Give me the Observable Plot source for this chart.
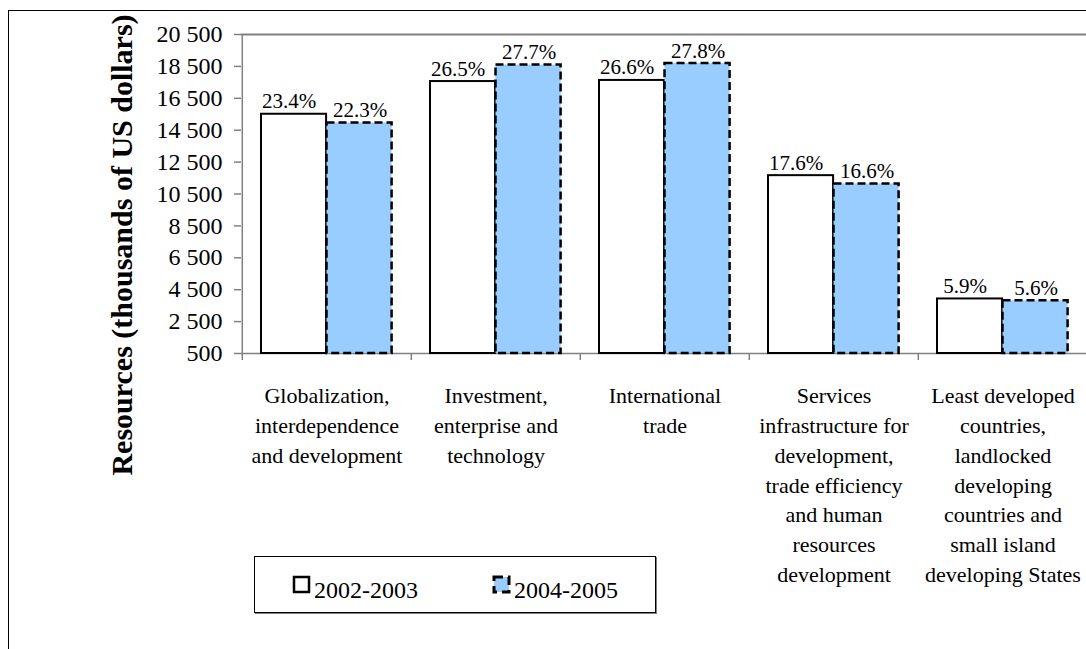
<!DOCTYPE html>
<html>
<head>
<meta charset="utf-8">
<script src="https://cdn.jsdelivr.net/npm/d3@7"></script>
<script src="https://cdn.jsdelivr.net/npm/@observablehq/plot@0.6"></script>
<style>
  html, body { margin: 0; padding: 0; background: #fff; overflow: hidden; }
  #wrap { position: relative; width: 1086px; height: 649px; overflow: hidden; font-family: "Liberation Serif", "Times New Roman", serif; }
  #frame { position: absolute; left: 8px; top: 10px; width: 2000px; height: 2000px; border-left: 1px solid #000; border-top: 1px solid #000; }
  #chart { position: absolute; left: 0; top: 0; }
  #chart svg, #chart svg text { font-family: "Liberation Serif", "Times New Roman", serif !important; }
  #ytitle { position: absolute; left: 0; top: 0; }
  #legend { position: absolute; left: 254px; top: 556px; width: 400px; height: 55px; border: 1px solid #000; box-shadow: 1px 1px 0 #808080; background: #fff; }
</style>
</head>
<body>
<div id="wrap">
  <div id="frame"></div>
  <div id="chart"></div>
  <svg id="ytitle" width="200" height="649"></svg>
  <div id="legend"></div>
</div>
<script>
const categories = [
  "Globalization, interdependence and development",
  "Investment, enterprise and technology",
  "International trade",
  "Services infrastructure for development, trade efficiency and human resources development",
  "Least developed countries, landlocked developing countries and small island developing States"
];
const categoryLabels = [
  "Globalization,\ninterdependence\nand development",
  "Investment,\nenterprise and\ntechnology",
  "International\ntrade",
  "Services\ninfrastructure for\ndevelopment,\ntrade efficiency\nand human\nresources\ndevelopment",
  "Least developed\ncountries,\nlandlocked\ndeveloping\ncountries and\nsmall island\ndeveloping States"
];
const series = ["2002-2003", "2004-2005"];
const values2002 = [15500, 17550, 17620, 11650, 3920];
const values2004 = [14950, 18580, 18680, 11130, 3800];
const share2002 = ["23.4%", "26.5%", "26.6%", "17.6%", "5.9%"];
const share2004 = ["22.3%", "27.7%", "27.8%", "16.6%", "5.6%"];
const yTicks = [500, 2500, 4500, 6500, 8500, 10500, 12500, 14500, 16500, 18500, 20500];
const yTitle = "Resources (thousands of US dollars)";

const rows = categories.map((c, i) => ({
  category: c, label: categoryLabels[i],
  v1: values2002[i], v2: values2004[i],
  p1: share2002[i], p2: share2004[i]
}));
const labelFor = Object.fromEntries(rows.map(r => [r.category, r.label]));
const yMin = yTicks[0], yMax = yTicks[yTicks.length - 1];
const fmt = d => d3.format(",")(d).replace(/,/g, " ");

const FONT = "Liberation Serif, Times New Roman, serif";
const W = 1088, ML = 241;
const band = (W - ML) / categories.length;
const barW = 65.5, gapOut = 19;
const lineGray = "#808080";
const blue = "#99CCFF";

const chart = Plot.plot({
  width: W, height: 649,
  marginLeft: ML, marginRight: 0, marginTop: 34, marginBottom: 296,
  style: { background: "transparent", fontFamily: FONT, maxWidth: "none", overflow: "visible", color: "black" },
  x: { domain: categories, paddingInner: 0, paddingOuter: 0, axis: null },
  y: { domain: [yMin, yMax], axis: null },
  marks: [
    Plot.ruleY([yMax], { stroke: lineGray, strokeWidth: 2 }),
    Plot.ruleY([yMin], { stroke: lineGray, strokeWidth: 1.5 }),
    Plot.barY(rows, { x: "category", y1: yMin, y2: "v1", insetLeft: gapOut, insetRight: band - gapOut - barW,
      fill: "white", stroke: "black", strokeWidth: 2 }),
    Plot.barY(rows, { x: "category", y1: yMin, y2: "v2", insetLeft: gapOut + barW, insetRight: band - gapOut - 2 * barW,
      fill: blue, stroke: "black", strokeWidth: 2.5, strokeDasharray: "8,4" }),
    Plot.ruleX([categories[0]], { x: d => d, y1: yMin, y2: yMax, dx: -band / 2, stroke: lineGray, strokeWidth: 1.5 }),
    Plot.ruleX(categories, { x: d => d, y1: yMin, y2: yMin, insetBottom: -7, dx: -band / 2, stroke: lineGray, strokeWidth: 1.5 }),
    Plot.axisY({ ticks: yTicks, tickSize: 7, tickPadding: 12, fontSize: 24, fontFamily: FONT, tickFormat: fmt, stroke: lineGray, strokeWidth: 1.5, fill: "black", label: null }),
    Plot.axisX({ tickSize: 0, tickPadding: 28, fontSize: 22, fontFamily: FONT, lineHeight: 1.36, tickFormat: d => labelFor[d], fill: "black", label: null }),
    Plot.text(rows, { x: "category", y: "v1", text: "p1", dx: -38, dy: -6, lineAnchor: "bottom", fontSize: 21, fontFamily: FONT, fill: "black" }),
    Plot.text(rows, { x: "category", y: "v2", text: "p2", dx: 33, dy: -6, lineAnchor: "bottom", fontSize: 21, fontFamily: FONT, fill: "black" })
  ]
});
document.getElementById("chart").appendChild(chart);

// Y axis title
const yt = d3.select("#ytitle");
yt.append("text")
  .attr("transform", "translate(132,245) rotate(-90)")
  .attr("text-anchor", "middle")
  .attr("font-family", FONT)
  .attr("font-weight", "bold")
  .attr("font-size", 30)
  .text(yTitle);

// Legend
const lg = d3.select("#legend").append("svg").attr("width", 400).attr("height", 55);
const styles = [
  { fill: "white", dash: null, sw: 2.5 },
  { fill: blue, dash: "9,5", sw: 3 }
];
series.forEach((s, i) => {
  const x0 = 39 + i * 200;
  lg.append("rect").attr("x", x0).attr("y", 20).attr("width", 15).attr("height", 15)
    .attr("fill", styles[i].fill).attr("stroke", "black").attr("stroke-width", styles[i].sw)
    .attr("stroke-dasharray", styles[i].dash);
  lg.append("text").attr("x", x0 + 20).attr("y", 41)
    .attr("font-family", FONT)
    .attr("font-size", 24).attr("fill", "black").text(s);
});
</script>
</body>
</html>
